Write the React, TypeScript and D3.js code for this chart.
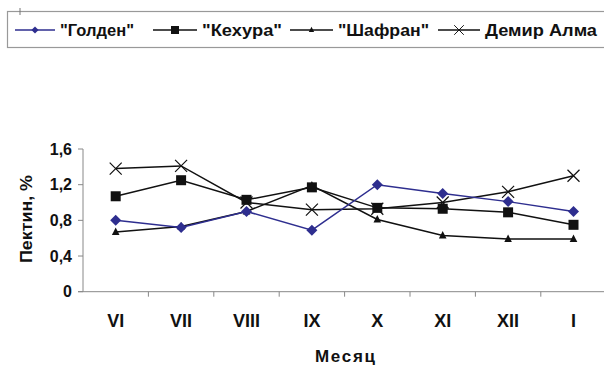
import { useRef, useEffect } from "react";
import * as d3 from "d3";

const months = ["VI", "VII", "VIII", "IX", "X", "XI", "XII", "I"];
const golden = [0.8, 0.72, 0.9, 0.69, 1.2, 1.1, 1.01, 0.9];
const kehura = [1.07, 1.25, 1.03, 1.17, 0.94, 0.93, 0.89, 0.75];
const shafran = [0.67, 0.73, 0.9, 1.19, 0.81, 0.63, 0.59, 0.59];
const demir = [1.38, 1.41, 1.0, 0.92, 0.93, 1.0, 1.12, 1.3];
const yTicks = [0, 0.4, 0.8, 1.2, 1.6];

const FONT = "'Liberation Sans', Arial, sans-serif";

export default function App() {
  const svgRef = useRef<SVGSVGElement>(null);
  const width = 604;
  const height = 367;

  useEffect(() => {
    const svg = d3.select(svgRef.current);
    svg.selectAll("*").remove();

    const x = d3.scaleBand<string>().domain(months).range([83, 83 + 8 * 65.4]);
    const y = d3.scaleLinear().domain([0, 1.6]).range([291.7, 149]);
    const cx = (i: number) => x(months[i])! + x.bandwidth() / 2;

    // axes
    const axisColor = "#888";
    svg.append("line")
      .attr("x1", 83).attr("x2", 83)
      .attr("y1", y(1.6)).attr("y2", y(0))
      .attr("stroke", axisColor).attr("stroke-width", 1);
    svg.append("line")
      .attr("x1", 78).attr("x2", width)
      .attr("y1", y(0)).attr("y2", y(0))
      .attr("stroke", axisColor).attr("stroke-width", 1);

    yTicks.forEach((t) => {
      svg.append("line")
        .attr("x1", 78).attr("x2", 83)
        .attr("y1", y(t)).attr("y2", y(t))
        .attr("stroke", axisColor);
      svg.append("text")
        .attr("x", 72).attr("y", y(t)).attr("dy", "0.36em")
        .attr("text-anchor", "end")
        .attr("font-family", FONT).attr("font-weight", "bold").attr("font-size", 16)
        .attr("fill", "#111")
        .text(d3.format(".1f")(t).replace(".", ",").replace(/^0,0$/, "0"));
    });

    months.forEach((m, i) => {
      const bx = x(m)! + x.bandwidth();
      svg.append("line")
        .attr("x1", bx).attr("x2", bx)
        .attr("y1", y(0)).attr("y2", y(0) + 5)
        .attr("stroke", axisColor);
      svg.append("text")
        .attr("x", cx(i)).attr("y", 326.5)
        .attr("text-anchor", "middle")
        .attr("font-family", FONT).attr("font-weight", "bold").attr("font-size", 18)
        .attr("fill", "#111")
        .text(m);
    });

    svg.append("text")
      .attr("x", 315).attr("y", 361.5)
      .attr("textLength", 60).attr("lengthAdjust", "spacing")
      .attr("font-family", FONT).attr("font-weight", "bold").attr("font-size", 17)
      .attr("fill", "#111")
      .text("Месяц");

    svg.append("text")
      .attr("transform", "translate(31.5,263) rotate(-90)")
      .attr("textLength", 88).attr("lengthAdjust", "spacingAndGlyphs")
      .attr("font-family", FONT).attr("font-weight", "bold").attr("font-size", 17)
      .attr("fill", "#111")
      .text("Пектин, %");

    const line = d3.line<number>().x((_, i) => cx(i)).y((d) => y(d));

    const drawMarker = (g: d3.Selection<SVGGElement, unknown, null, undefined>, kind: string, color: string) => {
      if (kind === "diamond") {
        g.append("path").attr("d", "M0,-5.5L5.5,0L0,5.5L-5.5,0Z").attr("fill", color);
      } else if (kind === "square") {
        g.append("rect").attr("x", -5).attr("y", -5).attr("width", 10).attr("height", 10).attr("fill", color);
      } else if (kind === "triangle") {
        g.append("path").attr("d", "M0,-4.5L3.8,3L-3.8,3Z").attr("fill", color);
      } else {
        g.append("path").attr("d", "M-6,-6L6,6M-6,6L6,-6").attr("stroke", color).attr("stroke-width", 1.2).attr("fill", "none");
      }
    };

    const series = [
      { values: demir, color: "#111", marker: "cross" },
      { values: kehura, color: "#111", marker: "square" },
      { values: shafran, color: "#111", marker: "triangle" },
      { values: golden, color: "#2e2e8f", marker: "diamond" },
    ];

    series.forEach((s) => {
      svg.append("path")
        .datum(s.values)
        .attr("fill", "none")
        .attr("stroke", s.color)
        .attr("stroke-width", 1.5)
        .attr("d", line);
    });
    series.forEach((s) => {
      s.values.forEach((v, i) => {
        const g = svg.append("g").attr("transform", `translate(${cx(i)},${y(v)})`);
        drawMarker(g, s.marker, s.color);
      });
    });

    // legend
    const legend = svg.append("g");
    legend.append("rect")
      .attr("x", 7.5).attr("y", 11.5).attr("width", 620).attr("height", 36)
      .attr("fill", "none").attr("stroke", "#999").attr("stroke-width", 1.2);
    legend.append("line")
      .attr("x1", 20).attr("x2", 20).attr("y1", 8).attr("y2", 15)
      .attr("stroke", "#777");

    const items = [
      { label: "\"Голден\"", color: "#2e2e8f", marker: "diamond", x0: 15, x1: 55, tx: 60, tw: 74, sc: 0.65 },
      { label: "\"Кехура\"", color: "#111", marker: "square", x0: 153, x1: 197, tx: 202, tw: 80, sc: 0.8 },
      { label: "\"Шафран\"", color: "#111", marker: "triangle", x0: 290, x1: 333, tx: 338, tw: 91, sc: 0.7 },
      { label: "Демир Алма", color: "#111", marker: "cross", x0: 438, x1: 480, tx: 485, tw: 112, sc: 0.8 },
    ];
    const ly = 30;
    items.forEach((it) => {
      legend.append("line")
        .attr("x1", it.x0).attr("x2", it.x1)
        .attr("y1", ly).attr("y2", ly)
        .attr("stroke", it.color).attr("stroke-width", 1.5);
      const g = legend.append("g")
        .attr("transform", `translate(${(it.x0 + it.x1) / 2},${ly}) scale(${it.sc})`);
      drawMarker(g, it.marker, it.color);
      legend.append("text")
        .attr("x", it.tx).attr("y", ly).attr("dy", "0.36em")
        .attr("textLength", it.tw).attr("lengthAdjust", "spacingAndGlyphs")
        .attr("font-family", FONT).attr("font-weight", "bold").attr("font-size", 17)
        .attr("fill", "#111")
        .text(it.label);
    });
  }, []);

  return (
    <svg
      ref={svgRef}
      width={width}
      height={height}
      style={{ position: "absolute", left: 0, top: 0, background: "#fff" }}
    />
  );
}
